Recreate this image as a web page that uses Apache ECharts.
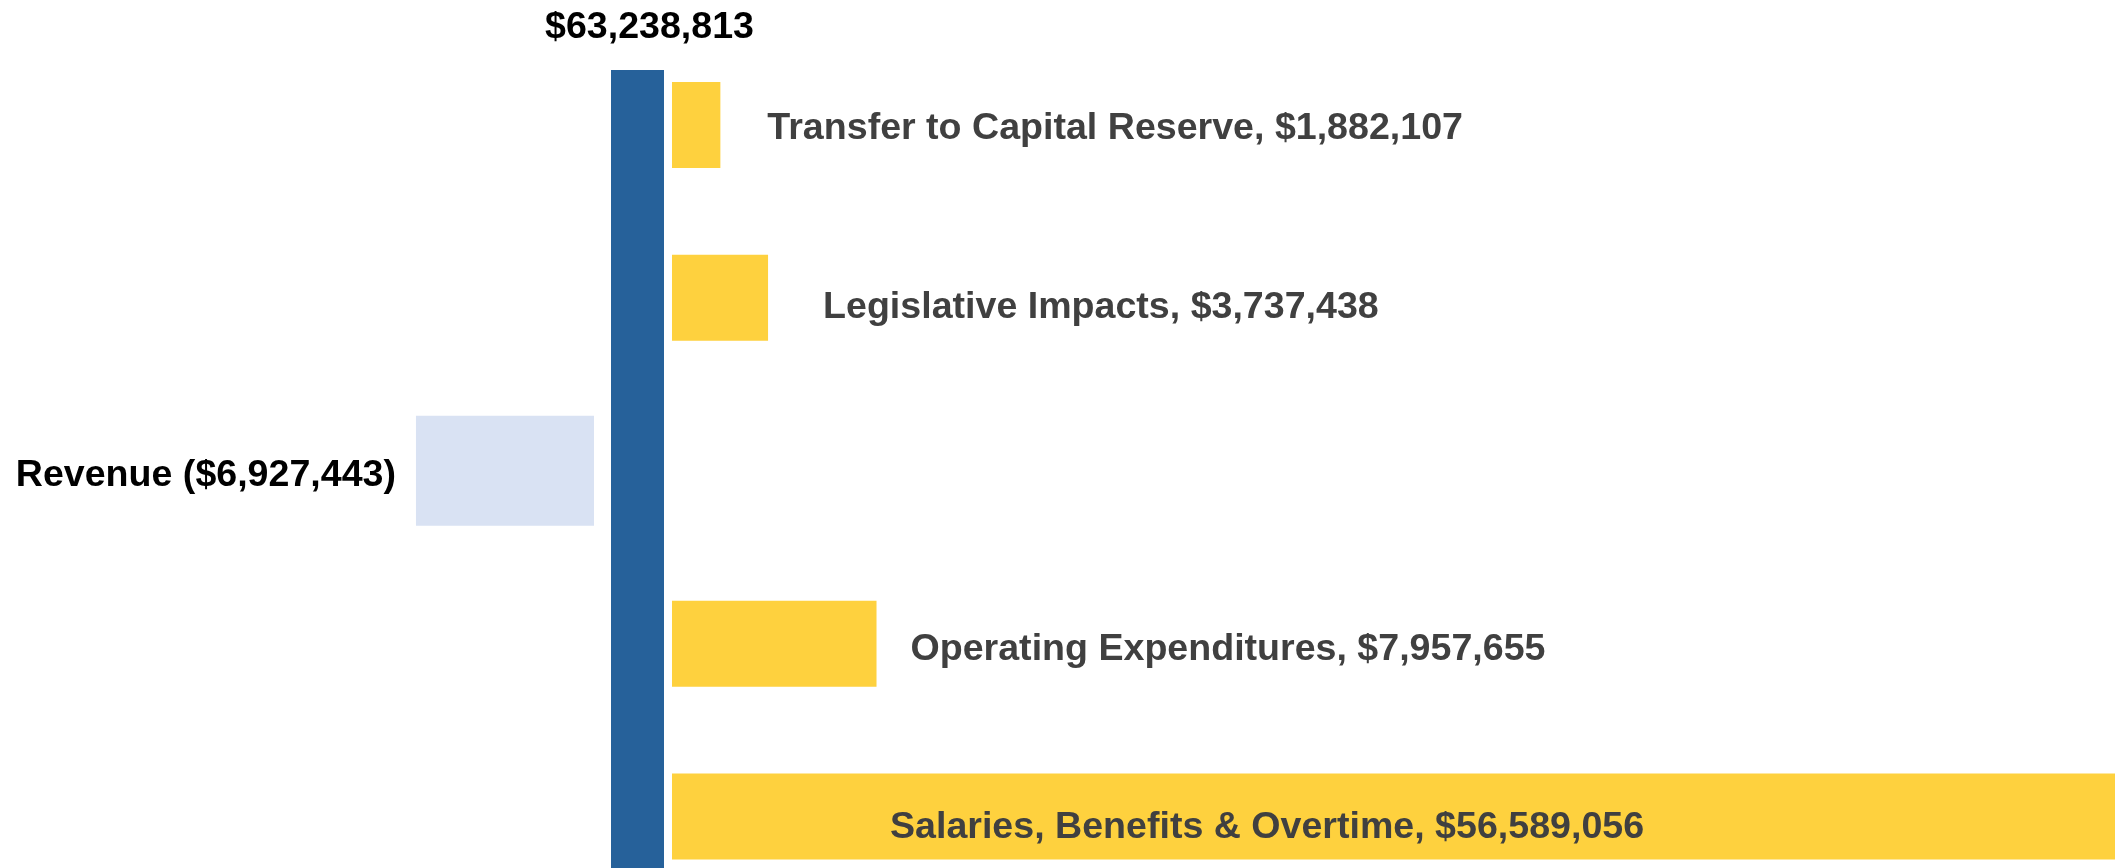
<!DOCTYPE html>
<html>
<head>
<meta charset="utf-8">
<title>Budget bridge</title>
<script src="https://cdn.jsdelivr.net/npm/echarts@6/dist/echarts.min.js"></script>
<style>
  html, body { margin: 0; padding: 0; background: #fff; }
  #main { width: 2115px; height: 868px; }
</style>
</head>
<body>
<div id="main"></div>
<script>
// data
const categories = ['Transfer to Capital Reserve', 'Legislative Impacts', 'Revenue', 'Operating Expenditures', 'Salaries, Benefits & Overtime']
const expenses = [1882107, 3737438, null, 7957655, 56589056]
const revenue = [null, null, 6927443, null, null]
const total = [63238813]

// layout / style
const pxPerDollar = 25.7e-6
const labelPlace = ['right', 'right', 'right', 'right', 'insideLeft']
const labelGap = [47, 55, 0, 34, 218]
const labelDrop = [4, 10, 0, 6, 11]
const font = "'Liberation Sans', Arial, sans-serif"
const fontSize = 37.6

function money(v) {
  return '$' + v.toLocaleString('en-US')
}

const hiddenAxis = {
  axisLine: { show: false },
  axisTick: { show: false },
  axisLabel: { show: false },
  splitLine: { show: false }
}

// category band = 172.9px, 5 slots, first centre at y=125 (runs past the bottom edge)
const catTop = 38.5
const catHeight = 172.9 * 5

const mainLeft = 672
const mainWidth = 2115 + 20 - mainLeft
const revWidth = 594

var myChart = echarts.init(document.getElementById('main'))

var option = {
  animation: false,
  grid: [
    // expense bars
    { left: mainLeft, width: mainWidth, top: catTop, height: catHeight, outerBoundsMode: 'none' },
    // total column
    { left: 611, width: 53, top: 70, height: 868 - 70, outerBoundsMode: 'none' },
    // revenue bar (grows to the left)
    { left: 0, width: revWidth, top: catTop, height: catHeight, outerBoundsMode: 'none' }
  ],
  xAxis: [
    Object.assign({ type: 'value', gridIndex: 0, min: 0, max: mainWidth / pxPerDollar }, hiddenAxis),
    Object.assign({ type: 'category', gridIndex: 1, data: ['Total'] }, hiddenAxis),
    Object.assign({ type: 'value', gridIndex: 2, inverse: true, min: 0, max: revWidth / pxPerDollar }, hiddenAxis)
  ],
  yAxis: [
    Object.assign({ type: 'category', gridIndex: 0, inverse: true, data: categories }, hiddenAxis),
    Object.assign({ type: 'value', gridIndex: 1, min: 0, max: total[0] }, hiddenAxis),
    Object.assign({ type: 'category', gridIndex: 2, inverse: true, data: categories }, hiddenAxis)
  ],
  series: [
    {
      type: 'bar',
      xAxisIndex: 0,
      yAxisIndex: 0,
      barWidth: 86,
      itemStyle: { color: '#FED13E' },
      data: expenses.map((v, i) => ({
        value: v,
        label: { position: labelPlace[i], distance: labelGap[i], offset: [0, labelDrop[i]] }
      })),
      label: {
        show: true,
        color: '#404040',
        fontFamily: font,
        fontWeight: 'bold',
        fontSize: fontSize,
        formatter: p => p.name + ', ' + money(p.value)
      }
    },
    {
      type: 'bar',
      xAxisIndex: 1,
      yAxisIndex: 1,
      barWidth: '100%',
      itemStyle: { color: '#26619A' },
      data: total,
      label: {
        show: true,
        position: 'top',
        distance: 23,
        offset: [12, 0],
        color: '#000',
        fontFamily: font,
        fontWeight: 'bold',
        fontSize: fontSize,
        formatter: p => money(p.value)
      }
    },
    {
      type: 'bar',
      xAxisIndex: 2,
      yAxisIndex: 2,
      barWidth: 110,
      itemStyle: { color: '#D9E2F3' },
      data: revenue,
      label: {
        show: true,
        position: 'left',
        distance: 20,
        offset: [0, 5],
        color: '#000',
        fontFamily: font,
        fontWeight: 'bold',
        fontSize: fontSize,
        formatter: p => p.name + ' (' + money(p.value) + ')'
      }
    }
  ]
}

myChart.setOption(option)
</script>
</body>
</html>
